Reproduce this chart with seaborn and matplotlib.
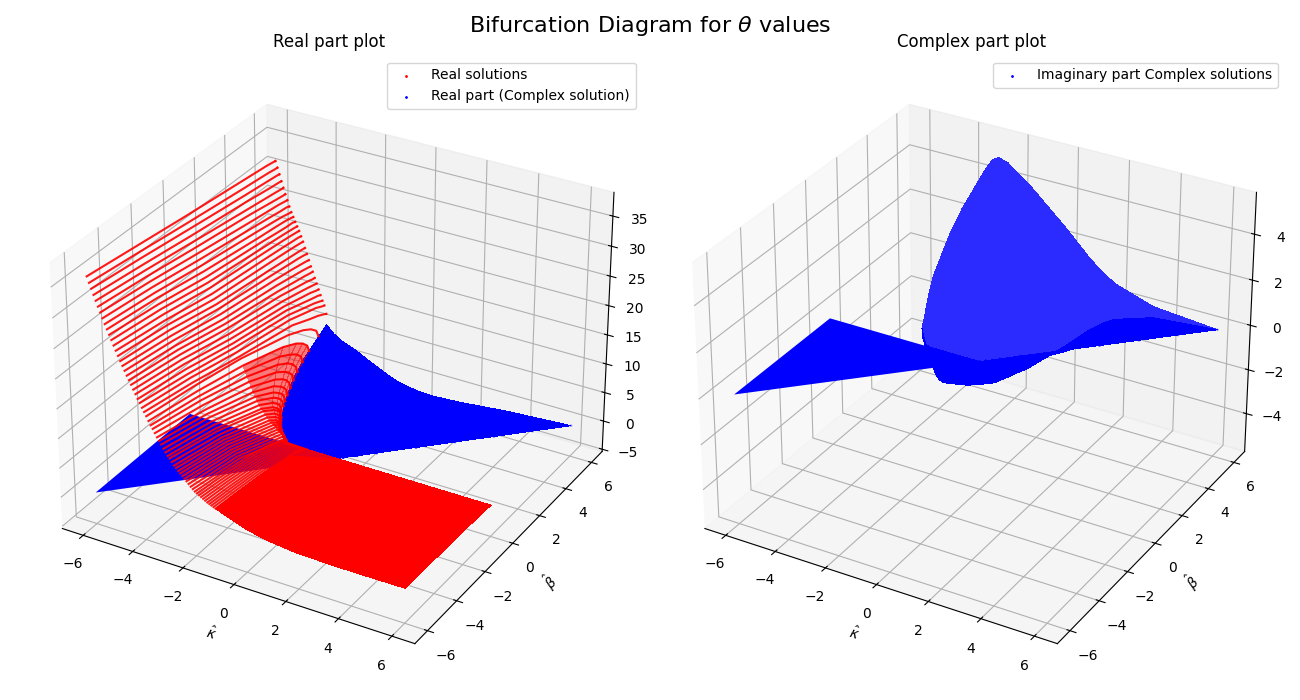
import numpy as np
import seaborn as sns
import matplotlib
matplotlib.use('Agg')
import matplotlib.pyplot as plt

# constant-kappa stripes of the real root
kappa_stripes = [-6.00, -5.92, -5.84, -5.76, -5.68, -5.60, -5.52, -5.44, -5.36, -5.28, -5.20, -5.12, -5.04,
                 -4.96, -4.88, -4.80, -4.72, -4.64, -4.56, -4.48, -4.40, -4.32, -4.24, -4.16, -4.08, -4.00,
                 -3.92, -3.84, -3.76, -3.68, -3.60, -3.52, -3.44, -3.36, -3.28, -3.20, -3.12, -3.04,
                 -2.96, -2.88, -2.80, -2.72, -2.64, -2.56, -2.48, -2.40, -2.32, -2.24, -2.16, -2.08]
beta_end = [6, 6, 6, 6, 6, 6, 6, 6, 6, 6, 6, 6, 6,
            6, 6, 6, 6, 6, 6, 6, 6, 6, 6, 6, 6, 6,
            6, 5.3, 4.5, 3.9, 3.4, 3.0, 2.65, 2.3, 2.0, 1.75, 1.5, 1.3,
            1.2, 1.05, 0.9, 0.75, 0.65, 0.55, 0.45, 0.37, 0.3, 0.22, 0.15, 0.08]
z_beta_m6 = [36.0, 35.05, 34.2, 33.3, 32.45, 31.6, 30.75, 29.9, 29.05, 28.3, 27.5, 26.75, 25.95,
             25.2, 24.45, 23.7, 23.0, 22.3, 21.6, 20.95, 20.3, 19.6, 18.95, 18.25, 17.7, 17.0,
             16.4, 15.8, 15.1, 14.5, 14.0, 13.4, 12.8, 12.3, 11.8, 11.2, 10.7, 10.2,
             9.9, 9.4, 8.9, 8.6, 8.2, 7.9, 7.55, 7.2, 6.9, 6.55, 6.2, 5.9]
z_beta_m3 = [34.9, 33.95, 33.1, 32.15, 31.3, 30.45, 29.6, 28.75, 27.9, 27.1, 26.25, 25.5, 24.7,
             23.85, 23.15, 22.4, 21.6, 20.9, 20.15, 19.5, 18.8, 18.1, 17.4, 16.7, 16.0, 15.4,
             14.7, 14.25, 13.4, 12.7, 12.1, 11.4, 10.7, 10.1, 9.6, 9.0, 8.5, 8.0,
             7.7, 7.2, 6.8, 6.5, 6.2, 5.9, 5.6, 5.3, 5.05, 4.75, 4.45, 4.2]
z_beta_0 = [33.8, 32.8, 31.9, 30.9, 30.0, 29.1, 28.2, 27.3, 26.4, 25.5, 24.6, 23.8, 23.0,
            22.1, 21.3, 20.5, 19.8, 19.0, 18.2, 17.5, 16.8, 16.0, 15.3, 14.6, 14.0, 13.3,
            12.6, 12.4, 11.3, 10.4, 9.6, 8.8, 8.0, 7.2, 6.5, 5.9, 5.25, 4.7,
            4.4, 3.9, 3.5, 3.1, 2.8, 2.5, 2.2, 1.9, 1.63, 1.33, 1.04, 0.72]
z_near_a = [32.6, 31.5, 30.5, 29.55, 28.45, 27.6, 26.6, 25.7, 24.85, 23.95, 23.2, 22.4, 21.7,
            20.85, 20.0, 19.05, 18.25, 17.4, 16.55, 15.7, 14.95, 14.1, 13.35, 12.7, 12.0, 11.3,
            10.4, 9.67, 8.7, 7.9, 7.2, 6.5, 5.8, 5.2, 4.6, 4.1, 3.65, 3.25,
            3.0, 2.67, 2.38, 2.1, 1.9, 1.7, 1.47, 1.27, 1.08, 0.89, 0.69, 0.48]
z_near_c = [32.2, 31.1, 30.07, 29.0, 27.95, 27.0, 26.1, 25.15, 24.3, 23.5, 22.65, 21.95, 21.25,
            20.4, 19.55, 18.55, 17.7, 16.8, 15.85, 14.95, 14.1, 13.25, 12.4, 11.6, 10.85, 10.15,
            8.95, 8.3, 7.4, 6.6, 6.0, 5.3, 4.7, 4.1, 3.6, 3.25, 2.8, 2.5,
            2.3, 2.0, 1.8, 1.6, 1.43, 1.28, 1.12, 0.96, 0.81, 0.66, 0.51, 0.35]
z_near_b = [32.0, 30.9, 29.85, 28.75, 27.7, 26.7, 25.85, 24.85, 24.0, 23.25, 22.4, 21.7, 21.0,
            20.15, 19.3, 18.3, 17.45, 16.45, 15.5, 14.6, 13.7, 12.8, 11.95, 11.05, 10.3, 9.6,
            8.3, 7.34, 6.45, 5.76, 5.1, 4.5, 3.9, 3.4, 3.0, 2.6, 2.25, 2.0,
            1.8, 1.59, 1.41, 1.25, 1.1, 1.0, 0.86, 0.73, 0.62, 0.5, 0.38, 0.26]
z_near_d = [31.8, 30.7, 29.7, 28.6, 27.5, 26.5, 25.6, 24.7, 23.7, 23.0, 22.3, 21.5, 20.8,
            20.0, 19.1, 18.1, 17.2, 16.2, 15.2, 14.3, 13.3, 12.45, 11.5, 10.7, 9.8, 9.0,
            7.7, 6.3, 5.4, 4.8, 4.1, 3.6, 3.0, 2.6, 2.2, 1.9, 1.6, 1.4,
            1.26, 1.1, 0.98, 0.85, 0.76, 0.68, 0.59, 0.49, 0.41, 0.33, 0.25, 0.17]
z_end = [31.7, 30.65, 29.6, 28.5, 27.45, 26.45, 25.5, 24.5, 23.6, 22.85, 22.1, 21.4, 20.7,
         19.85, 19.0, 18.0, 17.05, 16.05, 15.05, 14.2, 13.2, 12.3, 11.35, 10.45, 9.55, 8.8,
         7.4, 5.0, 4.2, 3.6, 3.0, 2.5, 2.0, 1.6, 1.3, 1.1, 0.85, 0.7,
         0.6, 0.5, 0.45, 0.38, 0.33, 0.3, 0.25, 0.2, 0.15, 0.12, 0.08, 0.05]

# stripes between the fold and the flat sheet, all ending on beta = 0
kappa_low = [-2.0, -1.92, -1.84, -1.76, -1.68, -1.6, -1.52, -1.44, -1.36, -1.28, -1.2]
beta_low = [-6.0, -4.5, -3.0, -2.0, -1.0, -0.4, 0.0]
low_m60 = [5.6, 5.4, 5.2, 5.0, 4.8, 4.6, 4.4, 4.25, 4.1, 3.95, 3.8]
low_m45 = [4.85, 4.68, 4.5, 4.33, 4.16, 4.0, 3.81, 3.68, 3.55, 3.42, 3.3]
low_m30 = [3.96, 3.82, 3.68, 3.54, 3.39, 3.25, 3.11, 3.0, 2.9, 2.79, 2.7]
low_m20 = [3.23, 3.12, 3.0, 2.89, 2.77, 2.65, 2.54, 2.45, 2.37, 2.28, 2.2]
low_m10 = [2.28, 2.2, 2.12, 2.04, 1.96, 1.88, 1.8, 1.73, 1.67, 1.61, 1.55]
low_m04 = [1.44, 1.39, 1.34, 1.29, 1.24, 1.19, 1.14, 1.1, 1.06, 1.02, 0.98]
low_00 = [0, 0, 0, 0, 0, 0, 0, 0, 0, 0, 0]

# flat part of the real root, beta <= 0
kappa_flat = [-1.2, -0.8, -0.4, 0.0, 0.4, 0.8, 1.2, 1.6, 2.0, 3.0, 4.0, 6.0]
beta_flat = [-6.0, -4.5, -3.0, -2.0, -1.0, -0.4, 0.0]
flat_m60 = [3.8, 3.1, 2.5, 1.9, 1.5, 1.15, 0.95, 0.75, 0.6, 0.5, 0.45, 0.5]
flat_m45 = [3.3, 2.7, 2.15, 1.65, 1.3, 1.0, 0.82, 0.65, 0.55, 0.42, 0.38, 0.42]
flat_m30 = [2.7, 2.2, 1.75, 1.35, 1.05, 0.8, 0.67, 0.55, 0.45, 0.33, 0.3, 0.35]
flat_m20 = [2.2, 1.8, 1.45, 1.1, 0.85, 0.65, 0.55, 0.45, 0.37, 0.27, 0.25, 0.28]
flat_m10 = [1.55, 1.25, 1.0, 0.8, 0.6, 0.45, 0.38, 0.32, 0.27, 0.2, 0.17, 0.2]
flat_m04 = [0.98, 0.8, 0.65, 0.5, 0.4, 0.3, 0.25, 0.2, 0.17, 0.13, 0.11, 0.13]
flat_00 = [0, 0, 0, 0, 0, 0, 0, 0, 0, 0, 0, 0]

# part of the flat sheet with the blue wing behind it
band_kappa = [-1.2, -1.2, 0.0]
band_beta = [-1.2, 0.0, 0.0]
band_z = [1.7, 0.0, 0.0]

# complex pair, rows of constant beta between the fold and kappa = beta
hump_beta = [0.0, 0.15, 0.5, 1.0, 2.0, 3.0, 4.0, 5.0, 6.0]
hump_kappa = [
    [-2.0, -1.9, -1.75, -1.6, -1.5, -1.4, -1.3, -1.2, -1.1, -1.0, -0.9, -0.8, -0.7, -0.6, -0.5, -0.4, -0.2, 0.0],
    [-2.25, -2.15, -2.05, -1.9, -1.8, -1.7, -1.55, -1.4, -1.25, -1.1, -0.95, -0.8, -0.65, -0.5, -0.37, -0.25, -0.05, 0.15],
    [-2.56, -2.46, -2.3, -2.15, -2.08, -2.0, -1.85, -1.7, -1.45, -1.2, -0.95, -0.7, -0.5, -0.3, -0.15, 0.0, 0.25, 0.5],
    [-2.88, -2.78, -2.6, -2.4, -2.3, -2.2, -2.05, -1.9, -1.6, -1.3, -1.0, -0.7, -0.45, -0.2, 0.0, 0.2, 0.6, 1.0],
    [-3.28, -3.18, -3.0, -2.7, -2.55, -2.4, -2.2, -2.0, -1.6, -1.2, -0.8, -0.4, -0.1, 0.2, 0.5, 0.8, 1.4, 2.0],
    [-3.55, -3.45, -3.25, -2.9, -2.7, -2.5, -2.25, -2.0, -1.5, -1.0, -0.5, 0.0, 0.37, 0.75, 1.1, 1.5, 2.25, 3.0],
    [-3.7, -3.6, -3.4, -3.0, -2.8, -2.6, -2.3, -2.0, -1.5, -1.0, -0.5, 0.0, 0.5, 1.0, 1.5, 2.0, 3.0, 4.0],
    [-3.8, -3.7, -3.5, -3.1, -2.88, -2.65, -2.3, -2.0, -1.5, -1.0, -0.5, 0.0, 0.5, 1.0, 1.5, 2.0, 3.5, 5.0],
    [-3.9, -3.8, -3.6, -3.2, -2.95, -2.7, -2.35, -2.0, -1.5, -1.0, -0.5, 0.0, 0.5, 1.0, 1.5, 2.0, 3.5, 6.0],
]
hump_real = [
    [0, 0, 0, 0, 0, 0, 0, 0, 0, 0, 0, 0, 0, 0, 0, 0, 0, 0],
    [0.1, 0.08, 0.05, 0.03, 0.02, 0.01, 0, 0, -0.01, -0.02, -0.03, -0.03, -0.03, -0.03, -0.02, -0.02, -0.01, 0],
    [0.25, 0.2, 0.15, 0.1, 0.08, 0.05, 0.02, 0, -0.03, -0.05, -0.08, -0.1, -0.1, -0.1, -0.09, -0.08, -0.05, 0],
    [0.5, 0.45, 0.35, 0.25, 0.2, 0.15, 0.1, 0.05, -0.03, -0.1, -0.15, -0.2, -0.2, -0.2, -0.18, -0.15, -0.1, 0],
    [1.3, 1.1, 0.9, 0.6, 0.5, 0.4, 0.27, 0.15, -0.1, -0.3, -0.44, -0.55, -0.56, -0.55, -0.5, -0.45, -0.25, 0],
    [2.6, 2.3, 1.9, 1.4, 1.15, 0.9, 0.6, 0.35, -0.1, -0.5, -0.72, -0.85, -0.87, -0.85, -0.76, -0.65, -0.35, 0],
    [3.8, 3.3, 2.8, 2.0, 1.7, 1.4, 0.95, 0.5, -0.15, -0.7, -0.98, -1.15, -1.15, -1.1, -1.0, -0.85, -0.4, 0],
    [4.7, 4.2, 3.5, 2.6, 2.25, 1.9, 1.25, 0.7, -0.1, -0.85, -1.2, -1.45, -1.47, -1.4, -1.27, -1.1, -0.55, 0],
    [5.5, 5.0, 4.2, 3.2, 2.8, 2.4, 1.65, 0.9, -0.1, -1.0, -1.45, -1.75, -1.8, -1.7, -1.55, -1.35, -0.7, 0],
]
hump_imag = [
    [0, 0, 0, 0, 0, 0, 0, 0, 0, 0, 0, 0, 0, 0, 0, 0, 0, 0],
    [0, 0.2, 0.4, 0.65, 0.75, 0.85, 0.85, 0.85, 0.83, 0.8, 0.75, 0.7, 0.63, 0.55, 0.48, 0.4, 0.25, 0],
    [0, 0.35, 0.75, 1.2, 1.4, 1.5, 1.55, 1.55, 1.52, 1.45, 1.33, 1.2, 1.05, 0.9, 0.8, 0.7, 0.35, 0],
    [0, 0.5, 1.1, 1.7, 1.95, 2.1, 2.15, 2.15, 2.07, 1.95, 1.8, 1.6, 1.42, 1.25, 1.08, 0.9, 0.45, 0],
    [0, 0.95, 1.75, 2.6, 2.75, 2.85, 2.85, 2.75, 2.55, 2.3, 2.03, 1.75, 1.5, 1.25, 1.02, 0.8, 0.35, 0],
    [0, 1.2, 2.1, 3.15, 3.4, 3.55, 3.5, 3.3, 3.0, 2.65, 2.3, 1.95, 1.62, 1.3, 1.05, 0.8, 0.3, 0],
    [0, 1.4, 2.5, 3.7, 4.0, 4.15, 4.05, 3.8, 3.45, 3.05, 2.65, 2.25, 1.8, 1.35, 0.95, 0.65, 0.2, 0],
    [0, 1.55, 2.75, 4.05, 4.5, 4.7, 4.55, 4.25, 3.8, 3.35, 2.9, 2.5, 2.0, 1.5, 1.05, 0.7, 0.2, 0],
    [0, 1.75, 3.05, 4.4, 4.85, 5.0, 4.9, 4.6, 4.2, 3.7, 3.2, 2.7, 2.15, 1.6, 1.15, 0.8, 0.25, 0],
]

# wing where the imaginary part is about zero
wing_kappa = [-6.0, -6.0, 0.0]
wing_beta = [-6.0, 0.0, 0.0]
wing_z = [0.0, 0.0, 0.0]

sns.reset_orig()
red, blue, light_blue, dark_red = sns.color_palette(['#ff0000', '#0000ff', '#2b2bff', '#e6001a'])

fig = plt.figure(figsize=(13, 7), dpi=100)
ax1 = fig.add_subplot(121, projection='3d', computed_zorder=False)
ax2 = fig.add_subplot(122, projection='3d', computed_zorder=False)

X = np.array(hump_kappa)
Y = np.repeat(np.array(hump_beta)[:, None], X.shape[1], axis=1)
R = np.array(hump_real)
I = np.array(hump_imag)

# left panel
ax1.plot_trisurf(wing_kappa, wing_beta, wing_z, color=blue, shade=False, linewidth=0, zorder=1)
ax1.plot_surface(X, Y, R, color=blue, shade=False, linewidth=0, antialiased=False, zorder=2)
FX, FY = np.meshgrid(kappa_flat, beta_flat)
FZ = np.array([flat_m60, flat_m45, flat_m30, flat_m20, flat_m10, flat_m04, flat_00])
ax1.plot_surface(FX, FY, FZ, color=red, shade=False, linewidth=0, antialiased=False, zorder=3)
ax1.plot_trisurf(band_kappa, band_beta, band_z, color=dark_red, shade=False, linewidth=0, zorder=3.5)

SX, SY, SZ = [], [], []
for i, k in enumerate(kappa_stripes):
    e = beta_end[i]
    SX.append([k] * 8)
    SY.append([-6, -3, 0, 0.6 * e, 0.8 * e, 0.9 * e, 0.97 * e, e])
    SZ.append([z_beta_m6[i], z_beta_m3[i], z_beta_0[i], z_near_a[i], z_near_c[i], z_near_b[i], z_near_d[i], z_end[i]])
SX, SY, SZ = np.array(SX), np.array(SY), np.array(SZ)

# the stripes run almost together near the fold
ax1.plot_surface(SX[28:, 2:], SY[28:, 2:], SZ[28:, 2:], color=red, shade=False, linewidth=0,
                 antialiased=False, alpha=0.5, zorder=3.8)
LZ = np.array([low_m60, low_m45, low_m30, low_m20, low_m10, low_m04, low_00])
for i, k in enumerate(kappa_low):
    ax1.plot([k] * len(beta_low), beta_low, LZ[:, i], color=red, lw=1.5, alpha=0.9, zorder=4)
for i in range(len(kappa_stripes)):
    ax1.plot(SX[i], SY[i], SZ[i], color=red, lw=1.5, alpha=0.9, zorder=4)
ax1.scatter(kappa_stripes, beta_end, z_end, s=1, color=red, label='Real solutions', zorder=4)
ax1.scatter(X[:, -1], Y[:, -1], R[:, -1], s=1, color=blue, label='Real part (Complex solution)', zorder=2)

# right panel, the two conjugate sheets
ax2.plot_trisurf(wing_kappa, wing_beta, wing_z, color=blue, shade=False, linewidth=0, zorder=1)
ax2.plot_surface(X, Y, I, color=light_blue, shade=False, linewidth=0, antialiased=False, zorder=2)
ax2.plot_surface(X[:4], Y[:4], -I[:4], color=blue, shade=False, linewidth=0, antialiased=False, zorder=3)
ax2.plot_surface(X[3:, 5:], Y[3:, 5:], -I[3:, 5:], color=blue, shade=False, linewidth=0, antialiased=False, zorder=3)
ax2.scatter(X[:, -1], Y[:, -1], I[:, -1], s=1, color=blue, label='Imaginary part Complex solutions', zorder=3)

for ax, zl in ((ax1, (-5.4, 38.9)), (ax2, (-5.75, 5.8))):
    ax.set_xlim(-6.85, 6.85)
    ax.set_ylim(-6.85, 6.85)
    ax.set_zlim(*zl)
    ax.set_xlabel(r'$\hat{\kappa}$')
    ax.set_ylabel(r'$\hat{\beta}$')

ax1.set_title('Real part plot')
ax2.set_title('Complex part plot')
ax1.legend()
ax2.legend()
fig.suptitle(r'Bifurcation Diagram for $\theta$ values', fontsize=16)
plt.tight_layout()
fig.savefig('out.png')
